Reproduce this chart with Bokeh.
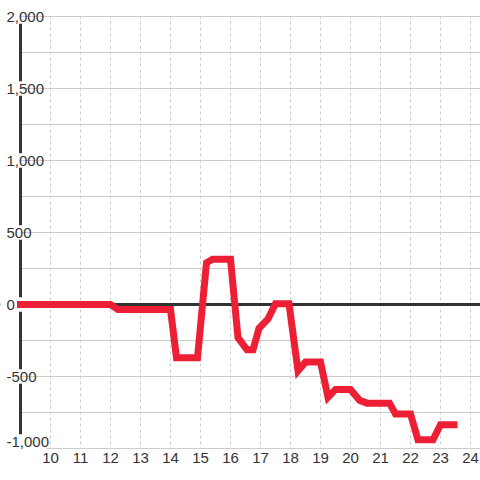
from bokeh.plotting import figure
from bokeh.models import LinearAxis, FixedTicker, Grid, Span, Range1d, NumeralTickFormatter, BoxAnnotation
from bokeh.embed import file_html
from bokeh.resources import INLINE

# Data (hour of day vs value)
hours = [9.0, 12.0, 12.25, 14.0, 14.2, 14.9, 15.2, 15.4, 16.0, 16.25, 16.55, 16.75,
         16.95, 17.25, 17.5, 17.95, 18.25, 18.5, 19.0, 19.25, 19.5, 20.0, 20.3,
         20.55, 21.3, 21.5, 22.0, 22.25, 22.75, 23.0, 23.45]
values = [0, 0, -35, -35, -370, -370, 290, 315, 315, -230, -315, -315,
          -165, -100, 5, 5, -460, -400, -400, -645, -590, -590, -665,
          -685, -685, -760, -760, -940, -940, -835, -835]

x_ticks = [10, 11, 12, 13, 14, 15, 16, 17, 18, 19, 20, 21, 22, 23, 24]
y_label_ticks = [-1000, -500, 0, 500, 1000, 1500, 2000]
y_grid_ticks = [-1000, -750, -500, -250, 0, 250, 500, 750, 1000, 1250, 1500, 1750, 2000]
x_start, y_min, y_max = 9, -1000, 2000

# 30 px per hour, 0.144 px per unit; frame covers the whole 480x480 canvas
y_lo, y_hi = y_min - 32 / 0.144, y_max + 16 / 0.144
p = figure(width=480, height=480, output_backend="svg", toolbar_location=None,
           x_range=Range1d(x_start - 20 / 30, x_start + 460 / 30),
           y_range=Range1d(y_lo, y_hi),
           x_axis_location=None, y_axis_location=None,
           min_border_left=0, min_border_right=0, min_border_top=0, min_border_bottom=0)
p.outline_line_color = None
p.background_fill_color = "white"
p.border_fill_color = "white"
p.center = []

# the lowest label sits slightly above its gridline (7 px)
lift = 7 / 0.144
p.extra_y_ranges = {"lifted": Range1d(y_lo - lift, y_hi - lift)}

p.add_layout(Grid(dimension=0, ticker=FixedTicker(ticks=x_ticks),
                  grid_line_color="#cccccc", grid_line_dash="3 3"), "center")
# blank bands above and below the plotting area
p.add_layout(BoxAnnotation(bottom=y_max, fill_color="white", fill_alpha=1,
                           line_color=None, level="underlay"))
p.add_layout(BoxAnnotation(top=y_min, fill_color="white", fill_alpha=1,
                           line_color=None, level="underlay"))
p.add_layout(Grid(dimension=1, ticker=FixedTicker(ticks=y_grid_ticks),
                  grid_line_color="#cccccc"), "center")
p.add_layout(Span(location=0, dimension="width", line_color="#333333", line_width=3,
                  level="underlay"))
# blank area left of the vertical axis
p.add_layout(BoxAnnotation(right=x_start, fill_color="white", fill_alpha=1,
                           line_color=None, level="underlay"))
# background behind the lowest label
p.add_layout(BoxAnnotation(left=x_start, right=x_start + 26 / 30,
                           bottom=y_min - 3 / 0.144, top=y_min + 3 / 0.144,
                           fill_color="white", fill_alpha=1, line_color=None, level="underlay"))

# vertical axis line, interrupted behind the tick labels
gap = 50
label_centres = [y_label_ticks[0] + lift] + y_label_ticks[1:]
seg_y0 = [t + gap for t in label_centres[:-1]]
seg_y1 = [t - gap for t in label_centres[1:]]
p.segment(x0=[x_start] * len(seg_y0), y0=seg_y0, x1=[x_start] * len(seg_y0), y1=seg_y1,
          line_color="#333333", line_width=3, line_cap="butt")

font = "Liberation Sans"
label_style = dict(formatter=NumeralTickFormatter(format="0,0"), axis_line_color=None,
                   major_tick_out=0, major_tick_in=0, minor_tick_out=0, minor_tick_in=0,
                   major_label_standoff=-14, major_label_text_font=font,
                   major_label_text_font_size="15px", major_label_text_color="#333333")
yaxis = LinearAxis(fixed_location=x_start, ticker=FixedTicker(ticks=y_label_ticks[1:]),
                   **label_style)
p.add_layout(yaxis, "right")
yaxis_low = LinearAxis(fixed_location=x_start, y_range_name="lifted",
                       ticker=FixedTicker(ticks=y_label_ticks[:1]), **label_style)
p.add_layout(yaxis_low, "right")

xaxis = LinearAxis(fixed_location=y_min, ticker=FixedTicker(ticks=x_ticks), axis_line_color=None,
                   major_tick_out=0, major_tick_in=0, minor_tick_out=0, minor_tick_in=0,
                   major_label_standoff=4, major_label_text_font=font,
                   major_label_text_font_size="15px", major_label_text_color="#333333")
p.add_layout(xaxis, "below")

p.line(hours, values, line_color="#ED1F35", line_width=7, line_join="miter",
       line_cap="square", level="overlay")

open("out.html", "w").write(file_html(p, INLINE))
